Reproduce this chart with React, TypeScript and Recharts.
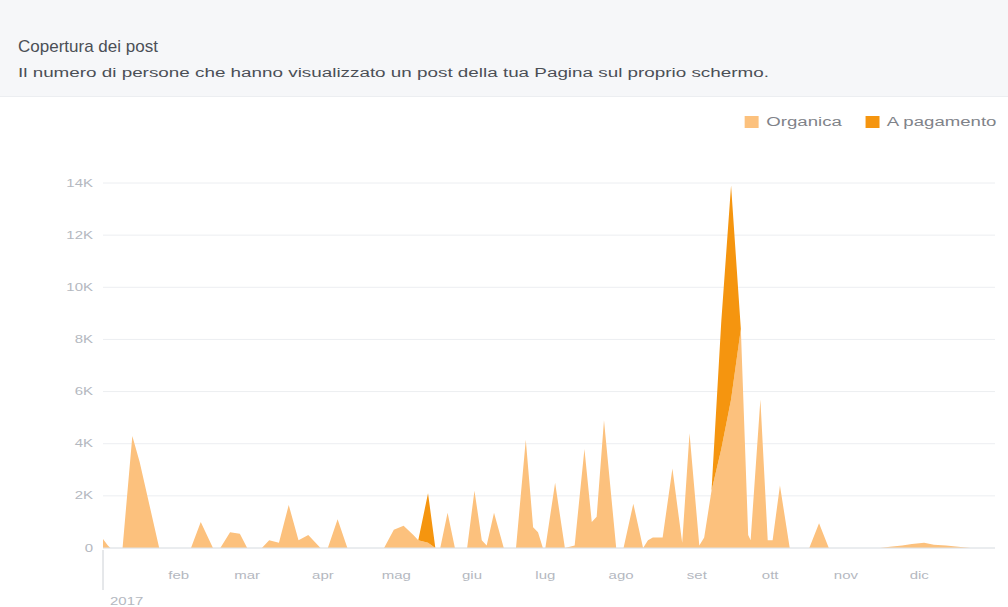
import React from 'react';
import { AreaChart, Area, XAxis, YAxis, CartesianGrid } from 'recharts';

// day of year (0 = 1 gen 2017), reach in persons
const days = [
  0, 2, 3, 8, 12, 15, 23, 36, 40, 45, 48, 52, 56, 59, 65, 68, 72, 76, 80, 84,
  89, 92, 96, 100, 115, 119, 123, 127, 129, 133, 136, 138, 141, 144, 149, 152, 155, 157, 160, 164,
  169, 173, 176, 178, 180, 181, 185, 189, 193, 197, 200, 202, 205, 210, 213, 217, 221, 223, 225, 229,
  233, 237, 240, 244, 246, 249, 253, 257, 261, 264, 265, 269, 272, 274, 277, 281, 289, 293, 297, 318,
  322, 327, 331, 336, 340, 345, 350, 355, 365,
];
const organica = [
  350, 100, 0, 0, 4300, 3300, 0, 0, 1000, 0, 0, 600, 550, 0, 0, 300, 200, 1650, 300, 500,
  0, 0, 1100, 0, 0, 700, 850, 500, 300, 200, 0, 0, 1350, 0, 0, 2200, 300, 100, 1350, 0,
  0, 4150, 800, 600, 0, 0, 2500, 0, 100, 3800, 1000, 1200, 4900, 0, 0, 1700, 0, 300, 400, 400,
  3050, 200, 4400, 100, 400, 2200, 3800, 5700, 8400, 500, 300, 5700, 300, 300, 2400, 0, 0, 950, 0, 0,
  50, 100, 150, 200, 120, 100, 50, 0, 0,
];
const pagamento = [
  0, 0, 0, 0, 0, 0, 0, 0, 0, 0, 0, 0, 0, 0, 0, 0, 0, 0, 0, 0,
  0, 0, 0, 0, 0, 0, 0, 0, 0, 1900, 0, 0, 0, 0, 0, 0, 0, 0, 0, 0,
  0, 0, 0, 0, 0, 0, 0, 0, 0, 0, 0, 0, 0, 0, 0, 0, 0, 0, 0, 0,
  0, 0, 0, 0, 0, 0, 4900, 8200, 0, 0, 0, 0, 0, 0, 0, 0, 0, 0, 0, 0,
  0, 0, 0, 0, 0, 0, 0, 0, 0,
];

const monthTicks = [0, 31, 59, 90, 120, 151, 181, 212, 243, 273, 304, 334];
const monthLabels = ['2017', 'feb', 'mar', 'apr', 'mag', 'giu', 'lug', 'ago', 'set', 'ott', 'nov', 'dic'];
const yTicks = [0, 2000, 4000, 6000, 8000, 10000, 12000, 14000];

const data = days.map((d, i) => ({ day: d, organica: organica[i], pagamento: pagamento[i] }));

const LIGHT = '#fcc17d';
const DARK = '#f5950f';
const LABEL = '#b4b8bf';
const FONT = '"Liberation Sans", Arial, sans-serif';
const SX = 1.5; // the screenshot's small text is stretched sideways

const MonthTick = (props: any) => {
  const { x, y, payload } = props;
  const idx = monthTicks.indexOf(payload.value);
  if (payload.value === 0) {
    return (
      <g>
        <line x1={x} x2={x} y1={y - 22} y2={y + 18} stroke="#ccd0d5" />
        <text transform={`translate(${x + 7},${y + 33}) scale(${SX},1)`} fill={LABEL} fontSize={10} fontFamily={FONT}>
          {monthLabels[idx]}
        </text>
      </g>
    );
  }
  return (
    <text transform={`translate(${x},${y}) scale(${SX},1)`} dy="0.71em" textAnchor="middle" fill={LABEL} fontSize={10} fontFamily={FONT}>
      {monthLabels[idx]}
    </text>
  );
};

const fmt = (v: number) => (v === 0 ? '0' : `${v / 1000}K`);

const ValueTick = (props: any) => {
  const { x, y, payload } = props;
  return (
    <text transform={`translate(${x},${y}) scale(${SX},1)`} dy="0.355em" textAnchor="end" fill={LABEL} fontSize={10} fontFamily={FONT}>
      {fmt(payload.value)}
    </text>
  );
};

export default function App() {
  return (
    <div style={{ position: 'absolute', left: 0, top: 0, width: 1008, height: 607, background: '#fff', fontFamily: FONT, overflow: 'hidden' }}>
      <div style={{ position: 'absolute', left: 0, top: 0, width: 1008, height: 96, background: '#f6f7f9', borderBottom: '1px solid #eceef1' }} />
      <div style={{ position: 'absolute', left: 18, top: 37, fontSize: 17, color: '#4b4f56', whiteSpace: 'nowrap' }}>
        Copertura dei post
      </div>
      <div style={{ position: 'absolute', left: 18, top: 66, fontSize: 12, color: '#4b4f56', transform: 'scaleX(1.57)', transformOrigin: 'left', whiteSpace: 'nowrap' }}>
        Il numero di persone che hanno visualizzato un post della tua Pagina sul proprio schermo.
      </div>
      <div style={{ position: 'absolute', right: 12, top: 115, display: 'flex', alignItems: 'center', fontSize: 12, color: '#7f8389', transform: 'scaleX(1.55)', transformOrigin: 'right', whiteSpace: 'nowrap' }}>
        <span style={{ width: 9, height: 12, background: LIGHT, display: 'inline-block', marginRight: 5 }} />
        <span style={{ marginRight: 15 }}>Organica</span>
        <span style={{ width: 9, height: 12, background: DARK, display: 'inline-block', marginRight: 5 }} />
        <span>A pagamento</span>
      </div>
      <div style={{ position: 'absolute', left: 0, top: 0 }}>
        <AreaChart width={1008} height={607} data={data} margin={{ top: 183, right: 13, bottom: 29, left: 53 }}>
          <CartesianGrid vertical={false} stroke="#eceef1" />
          <XAxis
            dataKey="day"
            type="number"
            domain={[0, 365]}
            ticks={monthTicks}
            interval={0}
            tick={<MonthTick />}
            tickSize={0}
            tickMargin={24}
            height={30}
            axisLine={{ stroke: '#dfe2e6' }}
          />
          <YAxis
            width={50}
            domain={[0, 14000]}
            ticks={yTicks}
            axisLine={false}
            tickLine={false}
            tickSize={0}
            tickMargin={10}
            tick={<ValueTick />}
          />
          <Area type="linear" dataKey="organica" stackId="a" stroke="none" fill={LIGHT} fillOpacity={1} isAnimationActive={false} />
          <Area type="linear" dataKey="pagamento" stackId="a" stroke="none" fill={DARK} fillOpacity={1} isAnimationActive={false} />
        </AreaChart>
      </div>
    </div>
  );
}
